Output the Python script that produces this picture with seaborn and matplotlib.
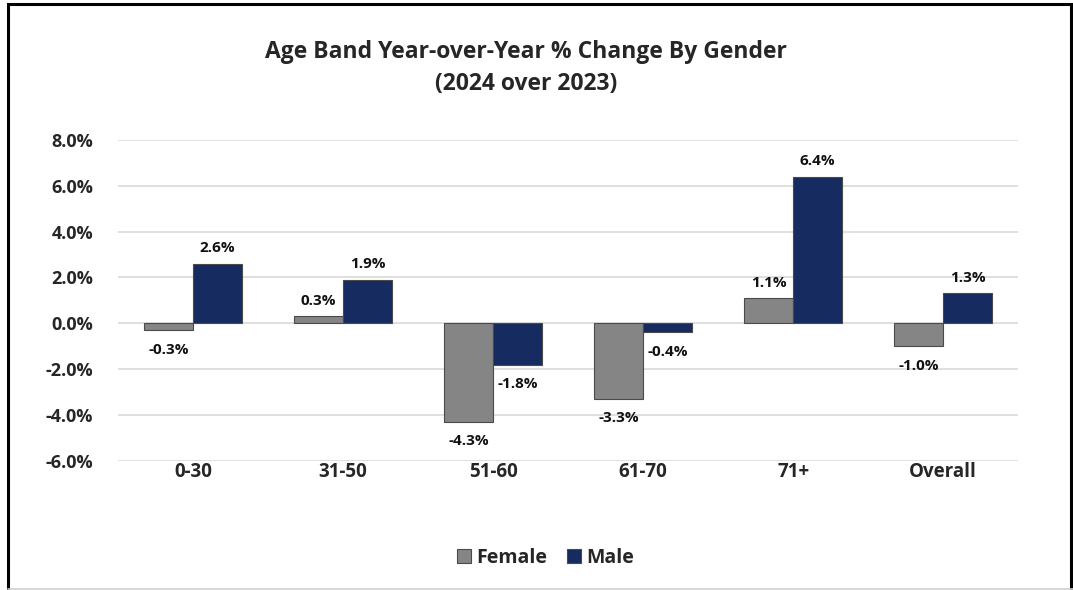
import matplotlib
matplotlib.use("Agg")
import matplotlib.pyplot as plt
import seaborn as sns
import pandas as pd
from matplotlib.patches import Rectangle

# data
age_bands = ["0-30", "31-50", "51-60", "61-70", "71+", "Overall"]
female = [-0.3, 0.3, -4.3, -3.3, 1.1, -1.0]
male = [2.6, 1.9, -1.8, -0.4, 6.4, 1.3]
y_ticks = [-6, -4, -2, 0, 2, 4, 6, 8]

df = pd.DataFrame({
    "band": age_bands * 2,
    "gender": ["Female"] * len(age_bands) + ["Male"] * len(age_bands),
    "change": female + male,
})

sns.set_style("white")
plt.rcParams["font.family"] = ["Open Sans", "DejaVu Sans"]
plt.rcParams["font.weight"] = "bold"

colors = {"Female": "#858585", "Male": "#0a276c"}

fig = plt.figure(figsize=(10.73, 5.9), dpi=100)
ax = fig.add_axes([0.11, 0.219, 0.839, 0.544])

sns.barplot(data=df, x="band", y="change", hue="gender", palette=colors,
            width=0.65, edgecolor="#4a4a4a", linewidth=0.8, ax=ax, zorder=3)

ax.set_ylim(-6, 8)
ax.set_yticks(y_ticks)
ax.set_yticklabels(["%.1f%%" % v for v in y_ticks], fontsize=13, fontweight="bold")
ax.tick_params(axis="x", labelsize=13.5, pad=1)
for lab in ax.get_xticklabels():
    lab.set_fontweight("bold")
ax.tick_params(axis="y", pad=18, length=0)
ax.tick_params(axis="x", length=0)
ax.grid(axis="y", color="#d9d9d9", linewidth=1.2, zorder=0)
ax.set_xlabel("")
ax.set_ylabel("")
for s in ax.spines.values():
    s.set_visible(False)

# data labels
for cont in ax.containers:
    for bar in cont:
        h = bar.get_height()
        x = bar.get_x() + bar.get_width() / 2
        off = 6 if h >= 0 else -9
        ax.annotate("%.1f%%" % h, (x, h), xytext=(0, off), textcoords="offset points",
                    ha="center", va="bottom" if h >= 0 else "top",
                    fontsize=11, fontweight="bold", color="#111111")

ax.legend(loc="center", bbox_to_anchor=(0.475, -0.303), ncol=2, frameon=False,
          fontsize=14, handlelength=0.7, handleheight=0.7, handletextpad=0.3,
          columnspacing=1.0)

fig.text(0.49, 0.912, "Age Band Year-over-Year % Change By Gender",
         ha="center", va="center", fontsize=16.5, fontweight="bold")
fig.text(0.49, 0.858, "(2024 over 2023)",
         ha="center", va="center", fontsize=16.5, fontweight="bold")

# outer frame (bottom edge is cut off in the original)
fig.patches.append(Rectangle((8 / 1073, -0.02), 1063 / 1073, 1 - 4 / 590 + 0.02,
                             transform=fig.transFigure, fill=False,
                             edgecolor="black", linewidth=2.2))
fig.lines.append(plt.Line2D([8 / 1073, 1], [1.5 / 590, 1.5 / 590],
                            transform=fig.transFigure, color="#d0d0d0", linewidth=1.2))

fig.savefig("out.png", dpi=100)
